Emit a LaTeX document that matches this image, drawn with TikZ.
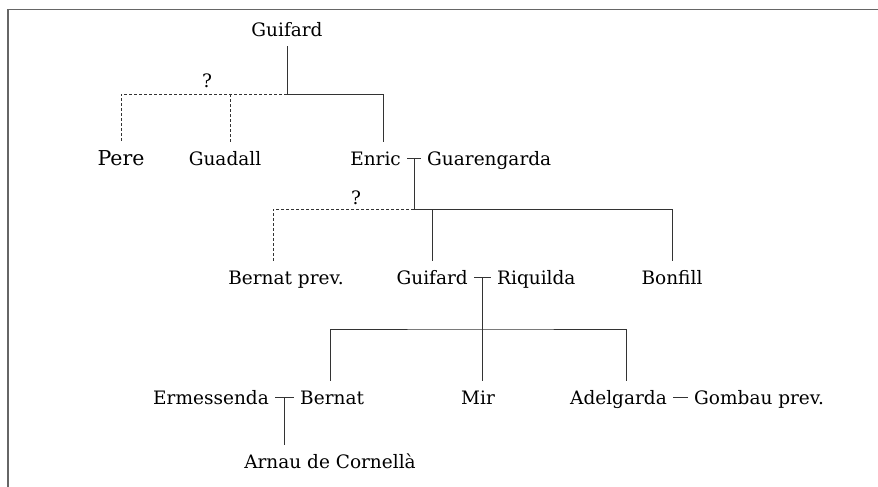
\documentclass[tikz,border=0pt]{standalone}
\usepackage{fontspec}
\setmainfont{DejaVu Serif}
\usetikzlibrary{calc}

\begin{document}
\begin{tikzpicture}[x=1pt,y=-1pt,
  person/.style={anchor=base, font=\fontsize{18.5}{20}\selectfont,
    text height=14pt, text depth=0pt, inner xsep=6pt, inner ysep=9pt},
  kin/.style={line width=1pt, black!80},
  unsure/.style={kin, dash pattern=on 3pt off 2pt}]
\useasboundingbox (0,0) rectangle (878,487);
\draw[line width=1.2pt, black!60] (8,487) -- (8,9.5) -- (878,9.5);
% people
\node[person] (guifard0) at (287,37) {Guifard};
\node[person, font=\fontsize{20.5}{22}\selectfont] (pere) at (121,165) {Pere};
\node[person] (guadall) at (225,165) {Guadall};
\node[person, anchor=base east] (enric) at (407,165) {Enric};
\node[person, anchor=base west] (guarengarda) at (421,165) {Guarengarda};
\node[person] (bernatp) at (286,284) {Bernat prev.};
\node[person, anchor=base east] (guifard1) at (474,284) {Guifard};
\node[person, anchor=base west] (riquilda) at (491,284) {Riquilda};
\node[person] (bonfill) at (672,284) {Bonfill};
\node[person, anchor=base east] (ermessenda) at (275,404) {Ermessenda};
\node[person, anchor=base west] (bernat) at (294,404) {Bernat};
\node[person] (mir) at (478,404) {Mir};
\node[person, anchor=base east] (adelgarda) at (673,404) {Adelgarda};
\node[person, anchor=base west] (gombau) at (688,404) {Gombau prev.};
\node[person] (arnau) at (330,468) {Arnau de Cornellà};
\node[person] (q1) at (207,88) {?};
\node[person] (q2) at (356,204) {?};
% Guifard's children
\coordinate (j0) at (287,94);
\coordinate (d0) at (230,94);
\draw[kin] (guifard0.south) -- (j0);
\draw[kin] (j0) -| ([xshift=8pt]enric.north);
\draw[unsure] (j0) -| (pere.north);
\draw[unsure] (d0) -- (d0 |- guadall.north);
% Enric and Guarengarda
\coordinate (h1) at (0,209);
\coordinate (m1) at ($(enric.east)!.5!(guarengarda.west)$);
\coordinate (j1) at (m1 |- h1);
\draw[kin] (enric.east) -- (guarengarda.west);
\draw[kin] (m1) -- (j1);
\draw[kin] (j1) -| (bonfill.north);
\draw[kin] (j1 -| guifard1.north) -- (guifard1.north);
\draw[unsure] (j1) -| ([xshift=-13pt]bernatp.north);
% Guifard and Riquilda
\coordinate (h2) at (0,329);
\coordinate (m2) at ($(guifard1.east)!.5!(riquilda.west)$);
\coordinate (j2) at (m2 |- h2);
\draw[kin] (guifard1.east) -- (riquilda.west);
\draw[kin] (m2) -- (j2);
\draw[kin] ([xshift=-2pt]bernat.north) |- (j2) -| ([xshift=8pt]adelgarda.north);
\draw[kin] (j2) -- (j2 |- mir.north);
% Ermessenda and Bernat
\coordinate (m3) at ($(ermessenda.east)!.5!(bernat.west)$);
\draw[kin] (ermessenda.east) -- (bernat.west);
\draw[kin] (m3) -- (m3 |- arnau.north);
\draw[kin] (adelgarda.east) -- (gombau.west);
\end{tikzpicture}
\end{document}
